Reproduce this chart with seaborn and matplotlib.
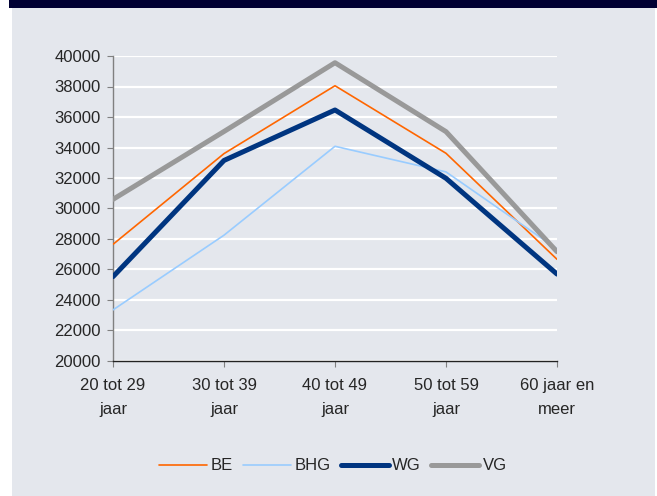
import numpy as np
import pandas as pd
import matplotlib.pyplot as plt
import matplotlib.patches as mpatches
import seaborn as sns

# Leeftijdscategorieën en waarden per gewest
categories = ["20 tot 29\njaar", "30 tot 39\njaar", "40 tot 49\njaar", "50 tot 59\njaar", "60 jaar en\nmeer"]
be = [27650, 33600, 38050, 33620, 26670]
bhg = [23350, 28250, 34080, 32400, 27350]
wg = [25530, 33150, 36460, 31980, 25700]
vg = [30600, 35050, 39560, 35040, 27170]

series = {"BE": be, "BHG": bhg, "WG": wg, "VG": vg}
colors = {"BE": "#ff6600", "BHG": "#99ccff", "WG": "#003580", "VG": "#999999"}
widths = {"BE": 1.2, "BHG": 1.2, "WG": 3.6, "VG": 3.6}

df = pd.DataFrame(
    [(i, name, v) for name, vals in series.items() for i, v in enumerate(vals)],
    columns=["pos", "reeks", "waarde"],
)

sns.set_style("white")
plt.rcParams["font.family"] = ["Liberation Sans", "DejaVu Sans"]

bg = "#e4e7ed"
fig = plt.figure(figsize=(6.57, 4.96), dpi=100)
fig.patch.set_facecolor("white")
# achtergrondvlak en donkere band bovenaan
fig.add_artist(mpatches.Rectangle((12 / 657, 0), (655 - 12) / 657, 1 - 8 / 496,
                                  transform=fig.transFigure, facecolor=bg, edgecolor="none", zorder=0))
fig.add_artist(mpatches.Rectangle((9 / 657, 1 - 8 / 496), 1 - 9 / 657, 8 / 496,
                                  transform=fig.transFigure, facecolor="#000033", edgecolor="none", zorder=0))

ax = fig.add_axes([113 / 657, 1 - 361 / 496, (557 - 113) / 657, (361 - 56) / 496])
ax.set_facecolor(bg)

for name in series:
    sub = df[df["reeks"] == name]
    sns.lineplot(data=sub, x="pos", y="waarde", ax=ax, color=colors[name],
                 linewidth=widths[name], label=name, sort=False, zorder=3)

ax.set_xlim(0, 4)
ax.set_ylim(20000, 40000)
ax.set_yticks(np.arange(20000, 40001, 2000))
ax.set_xticks(range(len(categories)))
ax.set_xticklabels(categories, linespacing=1.75)
ax.yaxis.grid(True, color="white", linewidth=1.6)
ax.set_axisbelow(True)
ax.set_xlabel("")
ax.set_ylabel("")

for s in ["top", "right"]:
    ax.spines[s].set_visible(False)
ax.spines["left"].set_color("#808080")
ax.spines["bottom"].set_color("#222222")
ax.spines["left"].set_linewidth(1.0)
ax.spines["bottom"].set_linewidth(1.0)
ax.tick_params(axis="y", direction="out", length=4, width=0.8, color="#808080",
               labelsize=12, pad=5, left=True)
ax.tick_params(axis="x", direction="out", length=4, width=0.8, color="#808080",
               labelsize=12, pad=8, bottom=True)

ax.legend(loc="center", bbox_to_anchor=(333 / 657, 1 - 466 / 496), bbox_transform=fig.transFigure,
          ncol=4, frameon=False, fontsize=12, handlelength=2.9, handletextpad=0.2,
          columnspacing=0.6)

fig.savefig("out.png", dpi=100, facecolor=fig.get_facecolor())
